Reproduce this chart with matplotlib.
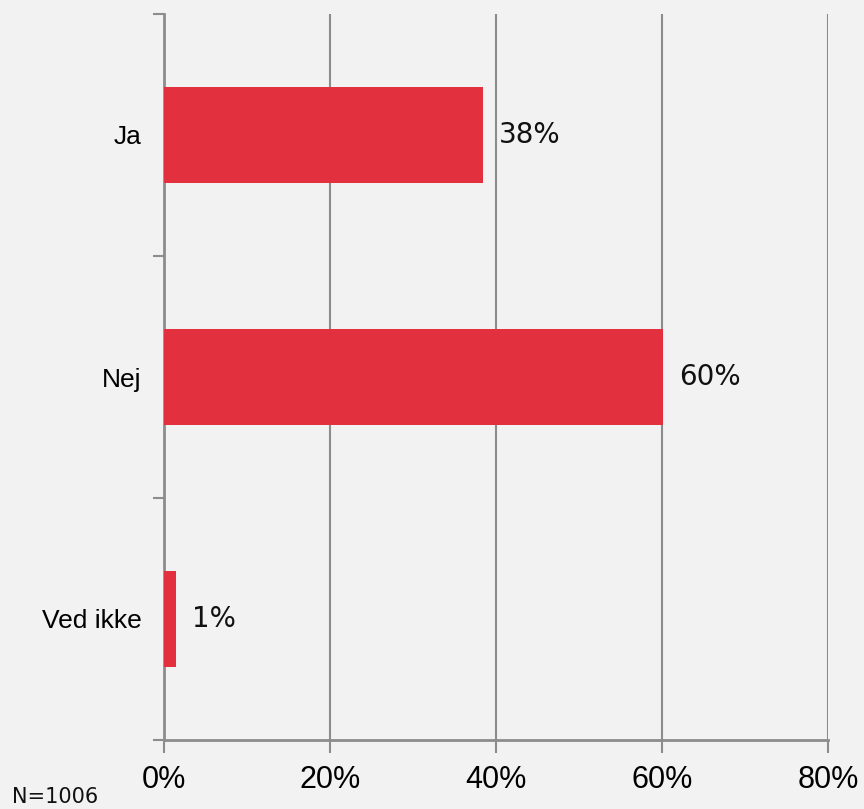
import matplotlib
matplotlib.use("Agg")
import matplotlib.pyplot as plt
import matplotlib.ticker as mticker

# Survey answers (share of respondents, %)
categories = ["Ja", "Nej", "Ved ikke"]
values = [38.4, 60.1, 1.4]
value_labels = ["38%", "60%", "1%"]
x_ticks = [0, 20, 40, 60, 80]
note = "N=1006"

BG = "#f2f2f2"
BAR = "#e3303e"
GRID = "#8c8c8c"

fig = plt.figure(figsize=(8.64, 8.09), dpi=100, facecolor=BG)
ax = fig.add_axes([164 / 864, 1 - 740 / 809, 664 / 864, 726 / 809])
ax.set_facecolor(BG)

pos = list(range(len(categories)))
ax.barh(pos, values, height=0.4, color=BAR, zorder=3)

for p, v, lab in zip(pos, values, value_labels):
    ax.text(v + 2.0, p, lab, va="center", ha="left", fontsize=20,
            family="DejaVu Sans", color="#111111")

ax.set_xlim(0, 80)
ax.set_ylim(len(categories) - 0.5, -0.5)
ax.set_xticks(x_ticks)
ax.xaxis.set_major_formatter(mticker.FuncFormatter(lambda x, _: f"{x:.0f}%"))
ax.set_yticks(pos)
ax.set_yticklabels(categories)
ax.set_yticks([-0.5, 0.5, 1.5, 2.5], minor=True)

ax.grid(axis="x", color=GRID, linewidth=1.5, zorder=0)
for side in ("top", "right"):
    ax.spines[side].set_visible(False)
for side in ("left", "bottom"):
    ax.spines[side].set_color(GRID)
    ax.spines[side].set_linewidth(2)

ax.tick_params(axis="x", colors=GRID, length=9, width=1.5, pad=9,
               labelsize=22, labelcolor="black", labelfontfamily="Liberation Sans")
ax.tick_params(axis="y", which="major", length=0, pad=16,
               labelsize=19, labelcolor="black", labelfontfamily="Liberation Sans")
ax.tick_params(axis="y", which="minor", colors=GRID, length=8, width=1.5)

fig.text(12 / 864, 2 / 809, note, ha="left", va="bottom", fontsize=15,
         family="DejaVu Sans", color="#111111")

fig.savefig("out.png", dpi=100, facecolor=BG)
